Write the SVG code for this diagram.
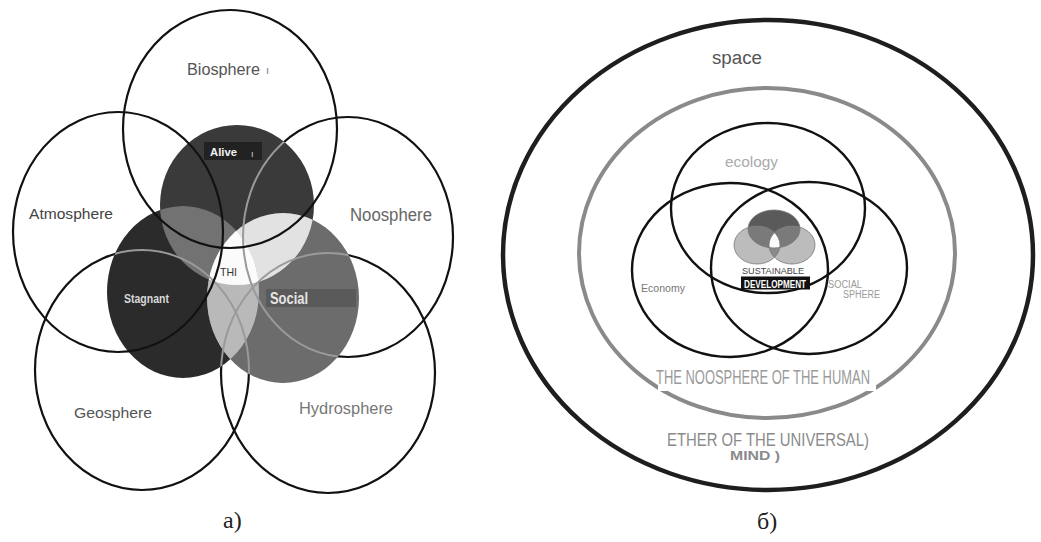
<svg xmlns="http://www.w3.org/2000/svg" width="1041" height="542" viewBox="0 0 1041 542">
<style>
.big{fill:none;stroke:#111;stroke-width:2.2}
.lbl{font-family:"Liberation Sans",Arial,sans-serif}
.cap{font-family:"Liberation Serif","Times New Roman",serif;font-size:24px;fill:#222}
.venn{fill:none;stroke:#111;stroke-width:2.4}
</style>
<defs>
<clipPath id="cA"><ellipse cx="237" cy="205" rx="77" ry="80"/></clipPath>
<clipPath id="cS"><ellipse cx="183" cy="292" rx="76" ry="86"/></clipPath>
<clipPath id="cO"><ellipse cx="283" cy="298" rx="76" ry="85"/></clipPath>
<clipPath id="cU">
<ellipse cx="237" cy="205" rx="77" ry="80"/>
<ellipse cx="183" cy="292" rx="76" ry="86"/>
<ellipse cx="283" cy="298" rx="76" ry="85"/>
</clipPath>
<clipPath id="sT"><ellipse cx="774" cy="229" rx="26" ry="19"/></clipPath>
<clipPath id="sL"><ellipse cx="757" cy="245" rx="23" ry="19"/></clipPath>
<clipPath id="sR"><ellipse cx="792" cy="245" rx="23" ry="19"/></clipPath>
</defs>
<rect width="1041" height="542" fill="#fff"/>

<!-- Diagram a -->
<g id="a-lower-outlines">
<ellipse id="noosphere-c" class="big" cx="348" cy="237" rx="105" ry="120"/>
<ellipse id="geosphere-c" class="big" cx="142" cy="370" rx="107" ry="120"/>
<ellipse id="hydrosphere-c" class="big" cx="328" cy="373" rx="107" ry="120" stroke="#333"/>
</g>
<g id="inner-spheres">
<ellipse id="alive-c" cx="237" cy="205" rx="77" ry="80" fill="#3a3a3a"/>
<ellipse id="stagnant-c" cx="183" cy="292" rx="76" ry="86" fill="#2b2b2b"/>
<ellipse id="social-c" cx="283" cy="298" rx="76" ry="85" fill="#6c6c6c"/>
<ellipse cx="183" cy="292" rx="76" ry="86" fill="#727272" clip-path="url(#cA)"/>
<ellipse cx="283" cy="298" rx="76" ry="85" fill="#e2e2e2" clip-path="url(#cA)"/>
<ellipse cx="283" cy="298" rx="76" ry="85" fill="#b9b9b9" clip-path="url(#cS)"/>
<g clip-path="url(#cA)"><ellipse cx="283" cy="298" rx="76" ry="85" fill="#fbfbfb" clip-path="url(#cS)"/></g>
</g>
<g clip-path="url(#cU)" fill="none" stroke="#9a9a9a" stroke-width="2">
<ellipse cx="348" cy="237" rx="105" ry="120"/>
<ellipse cx="142" cy="370" rx="107" ry="120"/>
<ellipse cx="328" cy="373" rx="107" ry="120"/>
</g>
<g id="a-upper-outlines">
<ellipse id="biosphere-c" class="big" cx="230" cy="129" rx="107" ry="119"/>
<ellipse id="atmosphere-c" class="big" cx="118" cy="232" rx="105" ry="120"/>
</g>
<g id="a-labels" class="lbl">
<text x="187" y="75" font-size="16" fill="#555" textLength="73" lengthAdjust="spacingAndGlyphs">Biosphere</text>
<text x="266" y="74" font-size="11" fill="#777">ı</text>
<text x="29" y="219" font-size="14.5" fill="#444" textLength="84" lengthAdjust="spacingAndGlyphs">Atmosphere</text>
<text x="350" y="221" font-size="17.5" fill="#666" textLength="82" lengthAdjust="spacingAndGlyphs">Noosphere</text>
<text x="74" y="418" font-size="15.5" fill="#555" textLength="78" lengthAdjust="spacingAndGlyphs">Geosphere</text>
<text x="299" y="414" font-size="16.5" fill="#777" textLength="94" lengthAdjust="spacingAndGlyphs">Hydrosphere</text>
<rect x="204" y="142" width="58" height="18" fill="#222"/>
<text x="210" y="156" font-size="11.5" font-weight="bold" fill="#f2f2f2" textLength="27" lengthAdjust="spacingAndGlyphs">Alive</text>
<text x="251" y="157" font-size="9" fill="#ddd">ı</text>
<text x="124" y="303" font-size="12" font-weight="bold" fill="#d8d8d8" textLength="45" lengthAdjust="spacingAndGlyphs">Stagnant</text>
<rect x="266" y="289" width="90" height="18" fill="#5a5a5a"/>
<text x="270" y="304" font-size="16" font-weight="bold" fill="#e4e4e4" textLength="38" lengthAdjust="spacingAndGlyphs">Social</text>
<text x="220" y="276" font-size="11" fill="#333" textLength="17" lengthAdjust="spacingAndGlyphs">THI</text>
</g>
<text id="cap-a" class="cap" x="223" y="528">a)</text>

<!-- Diagram b -->
<g id="b-space">
<ellipse cx="768" cy="255" rx="265" ry="235" fill="none" stroke="#1e1e1e" stroke-width="4.5"/>
<text class="lbl" x="712" y="64" font-size="18" fill="#555" textLength="50" lengthAdjust="spacingAndGlyphs">space</text>
</g>
<g id="b-noosphere">
<ellipse cx="767" cy="253" rx="188" ry="165" fill="none" stroke="#8a8a8a" stroke-width="4"/>
<rect x="658" y="366" width="218" height="25" fill="#fff"/>
<text class="lbl" x="656" y="384" font-size="20" fill="#9a9a9a" textLength="214" lengthAdjust="spacingAndGlyphs">THE NOOSPHERE OF THE HUMAN</text>
</g>
<g id="b-ether" class="lbl" fill="#8a8a8a">
<text x="667" y="446" font-size="18" textLength="202" lengthAdjust="spacingAndGlyphs">ETHER OF THE UNIVERSAL)</text>
<text x="730" y="460" font-size="12" font-weight="bold" textLength="50" lengthAdjust="spacingAndGlyphs">MIND )</text>
</g>
<g id="b-core">
<ellipse cx="774" cy="229" rx="26" ry="19" fill="#5a5a5a"/>
<ellipse cx="757" cy="245" rx="23" ry="19" fill="#bcbcbc"/>
<ellipse cx="792" cy="245" rx="23" ry="19" fill="#bcbcbc"/>
<ellipse cx="757" cy="245" rx="23" ry="19" fill="#7a7a7a" clip-path="url(#sT)"/>
<ellipse cx="792" cy="245" rx="23" ry="19" fill="#7a7a7a" clip-path="url(#sT)"/>
<ellipse cx="792" cy="245" rx="23" ry="19" fill="#8a8a8a" clip-path="url(#sL)"/>
<g clip-path="url(#sT)"><ellipse cx="792" cy="245" rx="23" ry="19" fill="#fbfbfb" clip-path="url(#sL)"/></g>
<g fill="none" stroke="#777" stroke-width="0.8">
<ellipse cx="774" cy="229" rx="26" ry="19"/>
<ellipse cx="757" cy="245" rx="23" ry="19"/>
<ellipse cx="792" cy="245" rx="23" ry="19"/>
</g>
</g>
<g id="b-venn">
<ellipse id="ecology-c" class="venn" cx="768" cy="208" rx="97" ry="85"/>
<ellipse id="economy-c" class="venn" cx="730" cy="270" rx="98" ry="87"/>
<ellipse id="social-sphere-c" class="venn" cx="809" cy="268" rx="98" ry="86"/>
</g>
<g id="b-labels" class="lbl">
<text x="641" y="292" font-size="11" fill="#777" textLength="44" lengthAdjust="spacingAndGlyphs">Economy</text>
<text x="725" y="167" font-size="14" fill="#aaa" textLength="53" lengthAdjust="spacingAndGlyphs">ecology</text>
<text x="828" y="288" font-size="11" fill="#999" textLength="34" lengthAdjust="spacingAndGlyphs">SOCIAL</text>
<text x="843" y="298" font-size="10" fill="#999" textLength="37" lengthAdjust="spacingAndGlyphs">SPHERE</text>
<text x="742" y="274" font-size="9" fill="#444" textLength="62" lengthAdjust="spacingAndGlyphs">SUSTAINABLE</text>
<rect x="741" y="276.5" width="69" height="13" fill="#111"/>
<text x="744" y="288" font-size="10" font-weight="bold" fill="#fff" textLength="62" lengthAdjust="spacingAndGlyphs">DEVELOPMENT</text>
</g>
<text id="cap-b" class="cap" x="757" y="529">б)</text>
</svg>
